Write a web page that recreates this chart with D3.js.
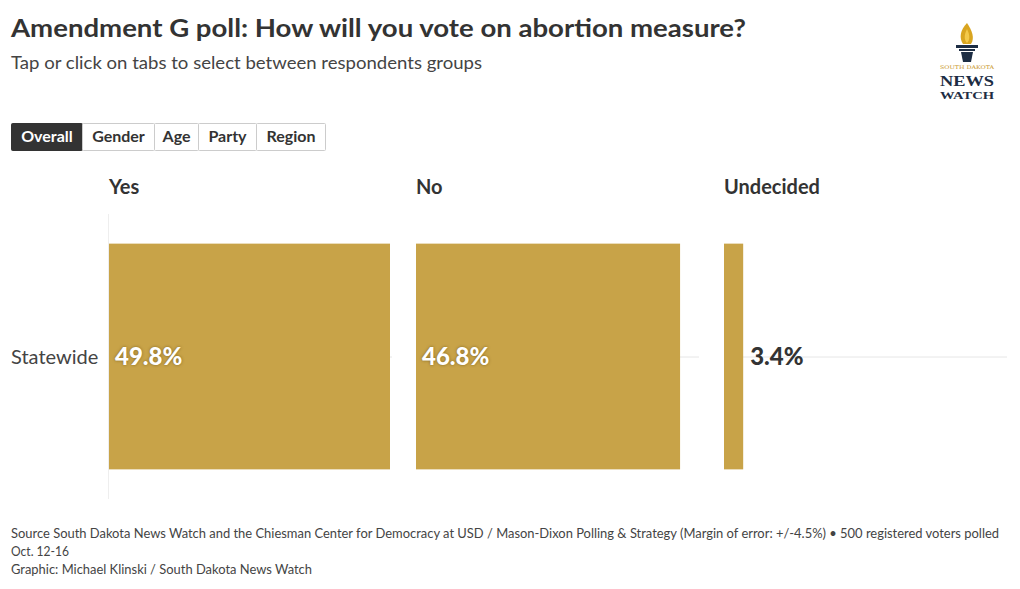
<!DOCTYPE html>
<html><head><meta charset="utf-8">
<script src="https://cdn.jsdelivr.net/npm/d3@7"></script>
<style>
body{margin:0;background:#fff;font-family:"Source Sans Pro","Lato","Open Sans",sans-serif;}
svg{display:block}
</style></head><body>
<svg id="c" width="1020" height="589"></svg>
<script>
const title = "Amendment G poll: How will you vote on abortion measure?";
const subtitle = "Tap or click on tabs to select between respondents groups";
const tabs = ["Overall","Gender","Age","Party","Region"];
const rows = ["Statewide"];
const seriesNames = ["Yes","No","Undecided"];
const yesValues = [49.8];
const noValues = [46.8];
const undecidedValues = [3.4];
const footer = [
 "Source South Dakota News Watch and the Chiesman Center for Democracy at USD / Mason-Dixon Polling & Strategy (Margin of error: +/-4.5%) \u2022 500 registered voters polled",
 "Oct. 12-16",
 "Graphic: Michael Klinski / South Dakota News Watch"
];

const svg = d3.select("#c");
const F = "Lato, 'Open Sans', sans-serif";
const dark = "#333333";
const gold = "#c8a348";

// Title
svg.append("text").attr("x",11).attr("y",37).attr("font-family",F).attr("font-weight",700)
  .attr("font-size",25).attr("fill",dark).attr("textLength",735).attr("lengthAdjust","spacingAndGlyphs").text(title);
svg.append("text").attr("x",11).attr("y",69).attr("font-family",F)
  .attr("font-size",18).attr("fill","#444").attr("textLength",471).attr("lengthAdjust","spacingAndGlyphs").text(subtitle);

// Tabs
const tabW = [71,72,44,58,69];
let tx = 11;
tabs.forEach((t,i)=>{
  const g = svg.append("g");
  g.append("rect").attr("x",tx+0.5).attr("y",123.5).attr("width",tabW[i]).attr("height",27)
    .attr("fill", i===0?dark:"#fff").attr("stroke", i===0?dark:"#ccc").attr("rx", 1);
  g.append("text").attr("x",tx+tabW[i]/2+0.5).attr("y",142).attr("text-anchor","middle")
    .attr("font-family",F).attr("font-weight",700).attr("font-size",16)
    .attr("fill", i===0?"#fff":dark).text(t);
  tx += tabW[i];
});

// Logo
const lg = svg.append("g").attr("transform","translate(967,0)");
lg.append("path").attr("d","M0,23 C-7,30 -8,38 -4,44 L4,44 C8,38 5,30 0,23 Z").attr("fill","#d9a520");
lg.append("path").attr("d","M0,29 C-3,35 -3,40 0,43 C3,40 3,35 0,29 Z").attr("fill","#f3c94a");
lg.append("rect").attr("x",-11).attr("y",45).attr("width",22).attr("height",3).attr("fill","#1d2d44");
lg.append("rect").attr("x",-8).attr("y",49).attr("width",16).attr("height",2).attr("fill","#1d2d44");
lg.append("path").attr("d","M-6,52 L6,52 L4,62 L-4,62 Z").attr("fill","#1d2d44");
lg.append("text").attr("x",0).attr("y",69).attr("text-anchor","middle").attr("font-family","'DejaVu Serif',serif")
  .attr("font-size",5).attr("fill","#c9962a").attr("textLength",54).attr("lengthAdjust","spacingAndGlyphs").text("SOUTH DAKOTA");
lg.append("text").attr("x",0).attr("y",86).attr("text-anchor","middle").attr("font-family","'Liberation Serif',serif")
  .attr("font-weight",700).attr("font-size",14).attr("fill","#1d2d44").attr("textLength",54).attr("lengthAdjust","spacingAndGlyphs").text("NEWS");
lg.append("text").attr("x",0).attr("y",99).attr("text-anchor","middle").attr("font-family","'Liberation Serif',serif")
  .attr("font-weight",700).attr("font-size",11).attr("fill","#1d2d44").attr("textLength",54).attr("lengthAdjust","spacingAndGlyphs").text("WATCH");

// Chart panels
const panelX = [109, 416, 724];
const panelW = 283;
const maxV = d3.max([...yesValues, ...noValues, ...undecidedValues]);
const x = d3.scaleLinear().domain([0, maxV]).range([0, 281]);
const y = d3.scaleBand().domain(rows).range([214, 499]).paddingInner(0.2).paddingOuter(0.105);
const allValues = [yesValues, noValues, undecidedValues];

// row label
svg.selectAll(".rowlab").data(rows).enter().append("text")
  .attr("x",11).attr("y",d=>y(d)+y.bandwidth()/2).attr("dy","0.35em")
  .attr("font-family",F).attr("font-size",20).attr("fill","#444").text(d=>d);

// axis line of first panel
svg.append("line").attr("x1",108.5).attr("x2",108.5).attr("y1",214).attr("y2",499).attr("stroke","#eee");

seriesNames.forEach((s,k)=>{
  const g = svg.append("g").attr("transform",`translate(${panelX[k]},0)`);
  g.append("text").attr("x",0).attr("y",194).attr("font-family",F).attr("font-weight",700)
    .attr("font-size",20).attr("fill",dark).text(s);
  // gridline
  g.selectAll(".grid").data(rows).enter().append("line")
    .attr("x1",0).attr("x2",panelW).attr("y1",d=>y(d)+y.bandwidth()/2+0.5).attr("y2",d=>y(d)+y.bandwidth()/2+0.5)
    .attr("stroke","#e6e6e6");
  const data = rows.map((r,i)=>({r, v: allValues[k][i]}));
  g.selectAll(".bar").data(data).enter().append("rect")
    .attr("x",0).attr("y",d=>y(d.r)).attr("width",d=>x(d.v)).attr("height",y.bandwidth()).attr("fill",gold);
  g.selectAll(".lab").data(data).enter().append("text")
    .attr("x",d=> x(d.v) > 60 ? 6 : x(d.v)+7)
    .attr("y",d=>y(d.r)+y.bandwidth()/2).attr("dy","0.35em")
    .attr("font-family",F).attr("font-weight",900).attr("font-size",24)
    .attr("fill",d=> x(d.v) > 60 ? "#fff" : dark)
    .attr("style",d=> x(d.v) > 60 ? "text-shadow:0 0 3px rgba(80,60,0,0.6)" : null)
    .text(d=>d.v.toFixed(1)+"%");
});

// footer
const fl = [538, 556, 574];
const fw = [988, 58, 301];
footer.forEach((t,i)=>{
  svg.append("text").attr("x",11).attr("y",fl[i]).attr("font-family",F).attr("font-size",13)
    .attr("fill","#444").attr("textLength",fw[i]).attr("lengthAdjust","spacingAndGlyphs").text(t);
});
</script>
</body></html>
